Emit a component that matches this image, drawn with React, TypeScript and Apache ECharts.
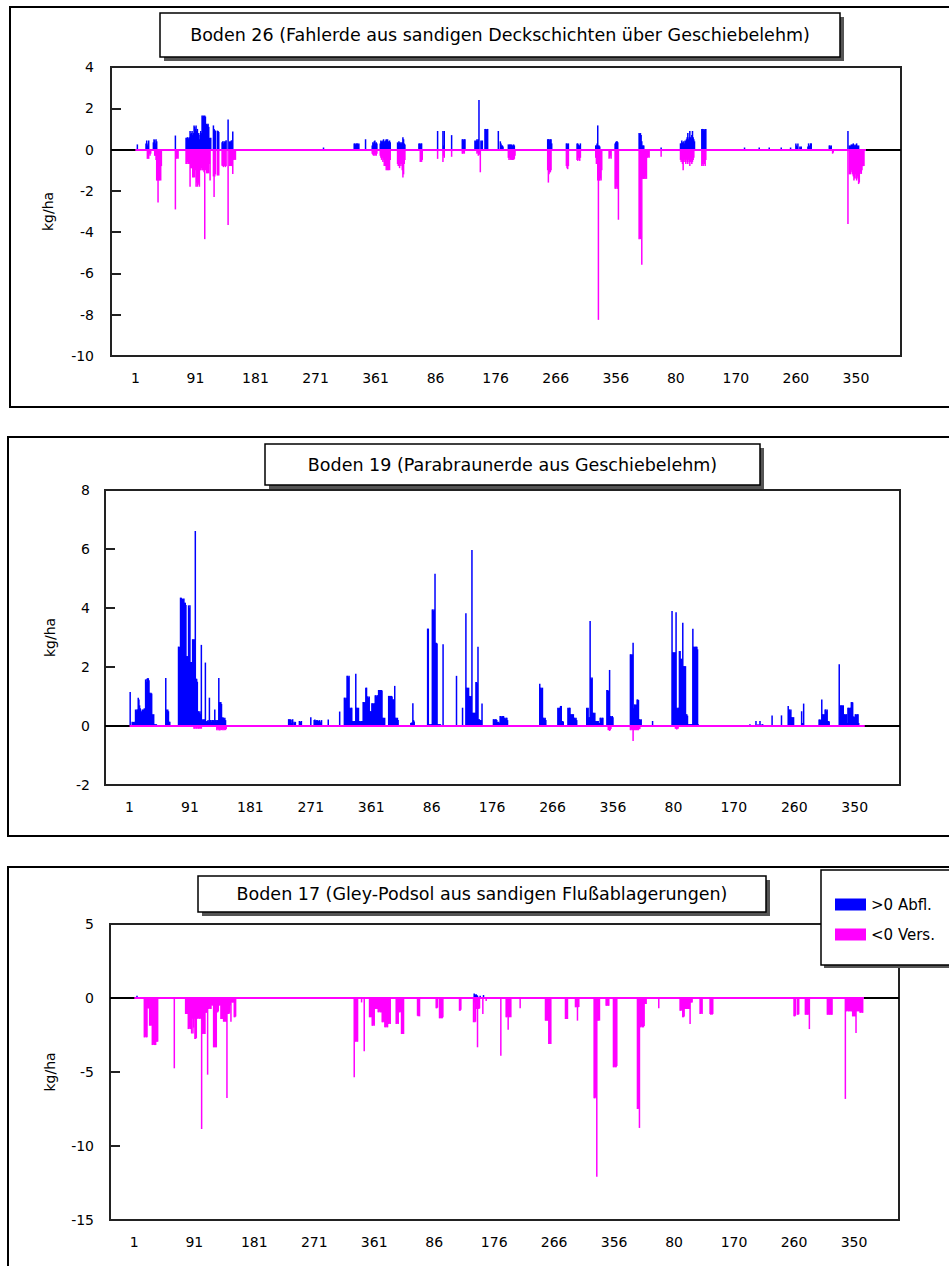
import React, { useEffect, useRef } from 'react';
import * as echarts from 'echarts';

// ---- time axis: three hydrological years, daily values ----
const YEAR_LENGTHS = [365, 366, 365];
const LEAD = 36; // empty categories before day 1
const TRAIL = 52; // empty categories after the last day
const LABEL_STEP = 90;
const SERIES_NAMES = ['>0 Abfl.', '<0 Vers.'];

// Runs of daily values: [first day (1 = first day of record), v, v, ...]
const boden26Abfl: number[][] = [
  [4, 0.25],
  [17, 0.3, 0.44, 0.2, 0.3, 0.44],
  [28, 0.35, 0.5, 0.45, 0.3, 0.5, 0.4],
  [61, 0.68],
  [77, 0.57, 0.55, 0.6, 0.57, 0.5, 0.6, 0.9, 0.75, 0.8, 0.9, 0.7, 0.8, 1.17, 1.1, 1.0, 1.17, 0.9, 1.0, 0.6, 0.8, 0.5, 0.7, 0.9, 0.8, 1.65, 1.6, 1.65, 1.5, 1.65, 1.6, 0.9, 1.25, 1.2, 1.25, 1.1, 0.57, 0.5, 0.57],
  [118, 1.17, 1.0, 0.95, 0.9],
  [124, 0.92, 0.9, 0.85],
  [131, 0.35, 0.4, 0.3, 0.4, 0.35, 0.4, 0.45],
  [140, 1.46],
  [142, 0.4, 0.35, 0.4, 0.45, 0.3],
  [147, 0.87],
  [283, 0.1],
  [329, 0.3, 0.3, 0.25, 0.3, 0.3, 0.3, 0.25, 0.3],
  [346, 0.5],
  [356, 0.2, 0.35, 0.3, 0.4, 0.44, 0.3, 0.35, 0.3],
  [368, 0.3, 0.44, 0.4, 0.35, 0.44, 0.5, 0.4, 0.3, 0.44, 0.5, 0.45, 0.5, 0.4, 0.3, 0.44, 0.35],
  [394, 0.35, 0.3, 0.4, 0.35, 0.3, 0.35, 0.3, 0.35, 0.6, 0.5, 0.3, 0.25],
  [426, 0.3, 0.3, 0.25, 0.3, 0.3],
  [454, 0.9],
  [462, 0.9, 0.2, 0.9],
  [475, 0.7],
  [491, 0.5, 0.5, 0.45, 0.5, 0.5],
  [510, 0.44, 0.4, 0.44, 0.5, 0.44, 0.5, 2.4],
  [519, 0.44, 0.4, 0.44],
  [525, 1.0, 1.0, 0.95, 1.0, 1.0],
  [545, 0.9],
  [548, 0.4, 0.3, 0.2, 0.2, 0.15],
  [560, 0.25, 0.2, 0.25, 0.25, 0.2, 0.25, 0.2, 0.2, 0.25, 0.2],
  [619, 0.5, 0.5, 0.5, 0.45, 0.5, 0.5, 0.3],
  [647, 0.3, 0.3, 0.25, 0.3],
  [663, 0.3, 0.3, 0.25, 0.2, 0.2, 0.3],
  [691, 0.2, 0.2, 0.3, 1.17, 0.2, 0.2, 0.15],
  [720, 0.3, 0.35, 0.4, 0.4, 0.35],
  [756, 0.8, 0.75, 0.8, 0.7, 0.4, 0.2, 0.2, 0.2],
  [789, 0.1],
  [818, 0.3, 0.3, 0.44, 0.35, 0.3, 0.4, 0.3, 0.44, 0.4, 0.5, 0.6, 0.8, 0.5, 0.6, 0.9, 0.6, 0.5, 0.7, 0.9, 0.6, 0.5, 0.4],
  [850, 1.0, 1.0, 0.9, 1.0, 0.95, 1.0, 1.0],
  [914, 0.1], [936, 0.1], [951, 0.1], [969, 0.1], [983, 0.1],
  [991, 0.3, 0.2, 0.15, 0.3],
  [997, 0.15, 0.1, 0.15],
  [1009, 0.15, 0.3, 0.2, 0.15, 0.3, 0.3],
  [1041, 0.2, 0.2, 0.15, 0.2],
  [1069, 0.9],
  [1071, 0.2, 0.15, 0.2, 0.25, 0.2, 0.25, 0.3, 0.25, 0.2, 0.2, 0.25, 0.3, 0.2, 0.15, 0.2],
];

const boden26Vers: number[][] = [
  [19, -0.45, -0.3, -0.45, -0.2, -0.3, -0.2],
  [30, -0.3, -0.3, -0.5, -1.5, -1.5, -2.56, -1.5, -1.5, -1.4, -1.5, -0.8],
  [61, -2.9],
  [63, -0.45, -0.4, -0.45],
  [77, -0.7, -0.7, -0.6, -0.7, -0.7, -0.7, -1.8, -0.9, -0.9, -0.9, -1.35, -1.35, -1.3, -1.35, -1.0, -1.8, -1.6, -1.8, -1.7, -1.6, -1.8, -1.0, -1.0, -0.9, -1.0, -1.0, -1.0, -1.1, -4.34, -1.0, -0.8, -1.15, -1.15, -1.1, -1.15, -0.7, -1.5],
  [118, -1.3, -2.3, -1.3, -1.2],
  [124, -1.26, -1.2, -1.26],
  [131, -0.78, -0.8, -0.85, -0.8, -0.78, -0.85, -0.8],
  [140, -3.66],
  [142, -0.8, -0.75, -0.8, -0.8, -0.7, -1.18, -0.5, -0.5, -0.45, -0.5],
  [356, -0.2, -0.25, -0.3, -0.2, -0.3, -0.25, -0.3, -0.2],
  [368, -0.3, -0.4, -0.5, -0.4, -0.6, -0.5, -0.8, -0.7, -0.8, -1.0, -0.9, -1.0, -1.0, -0.95, -1.0, -0.5],
  [394, -0.7, -0.8, -0.7, -0.9, -0.7, -0.8, -0.7, -1.0, -1.35, -1.2, -0.7, -0.5],
  [428, -0.6, -0.5, -0.6, -0.5],
  [454, -0.45],
  [462, -0.6, -0.3, -0.4],
  [475, -0.35],
  [491, -0.2, -0.2, -0.15, -0.2],
  [513, -0.2, -0.15, -0.3, -0.2, -0.25, -1.1],
  [560, -0.4, -0.5, -0.4, -0.5, -0.45, -0.5, -0.5, -0.4, -0.5, -0.45, -0.3],
  [619, -1.0, -1.6, -1.2, -1.1, -1.1, -1.0],
  [647, -0.8, -0.9, -0.95, -0.8],
  [663, -0.5, -0.55, -0.4, -0.5, -0.55, -0.4],
  [691, -0.4, -0.7, -0.6, -1.5, -8.25, -1.5, -1.5, -1.4, -1.5, -1.0],
  [711, -0.45, -0.4, -0.3, -0.45],
  [720, -1.9, -1.9, -1.8, -1.9, -1.9, -3.4],
  [756, -4.34, -4.3, -4.34, -1.42, -5.58, -1.42, -1.4, -1.42, -1.4, -1.42, -1.3, -1.42, -0.4, -0.4, -0.35, -0.4],
  [789, -0.35],
  [818, -0.5, -0.6, -0.5, -0.7, -1.0, -0.6, -0.5, -0.6, -0.7, -0.5, -0.6, -0.7, -0.5, -0.6, -0.8, -0.6, -0.5, -0.7, -0.6, -0.5, -0.4],
  [850, -0.8, -0.7, -0.8, -0.6, -0.7, -0.8, -0.5],
  [1046, -0.2, -0.15],
  [1069, -3.6],
  [1071, -1.2, -1.0, -1.2, -1.0, -1.1, -1.2, -1.3, -1.5, -1.4, -1.2, -1.4, -1.5, -1.3, -1.4, -1.67, -1.6, -1.18, -1.1, -1.18, -1.0, -0.8, -0.8, -0.8],
];

const boden19Abfl: number[][] = [
  [2, 1.15],
  [5, 0.14, 0.1, 0.14, 0.12, 0.14],
  [10, 0.56, 0.5, 0.56, 0.56, 0.96, 0.9, 0.7, 0.6, 0.45, 0.5, 0.56, 0.5, 0.56, 0.6, 0.56, 1.58, 1.5, 1.6, 1.62, 1.62, 1.55, 1.13, 1.1, 1.13, 1.1, 0.4, 0.35, 0.4, 0.06, 0.06, 0.05, 0.06],
  [55, 1.63, 0.56, 0.5, 0.56, 0.5, 0.14, 0.14],
  [74, 2.69, 2.69, 2.6, 4.35, 4.35, 4.3, 4.32, 4.3, 4.32, 4.18, 4.18, 4.1, 2.37, 2.37, 2.3, 4.09, 4.0, 4.09, 2.17, 2.17, 2.1, 2.94, 2.94, 2.9, 2.94, 6.61, 1.6, 1.6, 1.5, 0.5, 0.5, 0.45, 0.5, 0.4, 2.75, 0.23, 0.2, 0.23, 0.2, 0.23, 2.15, 0.17, 0.15, 0.17, 0.2, 0.15, 0.96, 0.2, 0.2, 0.15, 0.2, 0.2, 0.2, 0.15, 0.56, 0.2, 0.2, 0.15, 0.2, 0.2, 1.63, 0.81, 0.8, 0.81, 0.75, 0.28, 0.3, 0.28, 0.25, 0.28, 0.2],
  [238, 0.23, 0.23, 0.2, 0.23, 0.1, 0.2, 0.23],
  [246, 0.14, 0.1, 0.14],
  [254, 0.17, 0.1, 0.15, 0.17],
  [271, 0.3],
  [276, 0.2, 0.22, 0.18, 0.2, 0.15, 0.2, 0.18, 0.15, 0.2, 0.1, 0.15, 0.2],
  [297, 0.22],
  [314, 0.49],
  [321, 0.96, 0.96, 0.9, 0.96, 1.7, 1.7, 1.65, 1.7, 0.62, 0.6, 0.62, 0.62, 0.17, 0.17, 0.15, 0.17, 0.17, 1.77, 0.62, 0.62, 0.6, 0.62, 0.17, 0.17, 0.15, 0.17, 0.17, 0.17, 0.81, 0.81, 0.8, 0.81, 1.3, 1.3, 1.0, 1.0, 0.95, 1.0, 0.5, 0.5, 0.5, 0.77, 0.77, 0.75, 0.77, 0.77, 1.04, 1.04, 1.0, 1.04, 1.04, 1.22, 1.22, 1.2, 1.22, 1.22, 1.2, 0.28, 0.28, 0.25, 0.28],
  [387, 1.02, 1.02, 1.0, 1.02, 1.02, 1.0, 0.9, 0.9, 0.9, 1.36, 0.28, 0.28, 0.25, 0.28, 0.2],
  [420, 0.1, 0.12, 0.1, 0.77, 0.2, 0.15],
  [445, 3.3, 3.3, 0.06, 0.06, 0.05, 0.06, 0.06, 3.95, 3.95, 3.9, 3.95, 5.16, 2.82, 2.82, 2.8, 0.06, 0.06, 0.05, 0.06, 0.06],
  [468, 2.77],
  [488, 1.7],
  [497, 0.62],
  [502, 3.82, 1.3, 1.3, 1.25, 1.3, 1.02, 1.02, 1.0, 1.02, 5.97, 0.45, 0.45, 0.4, 0.45, 0.45, 1.49, 1.49, 1.45, 2.69, 0.23, 0.23, 0.2, 0.2, 0.2, 0.76],
  [543, 0.23, 0.23, 0.2, 0.23, 0.23, 0.2, 0.14, 0.12, 0.14, 0.1, 0.34, 0.34, 0.3, 0.34, 0.32, 0.34, 0.28, 0.28, 0.25, 0.28, 0.28, 0.2],
  [612, 1.43, 1.3, 1.3, 1.25, 1.3, 0.28, 0.28, 0.25, 0.28, 0.2],
  [639, 0.62, 0.6, 0.62, 0.62, 0.68, 0.68, 0.17, 0.17, 0.15],
  [654, 0.62, 0.6, 0.62, 0.62, 0.4, 0.4, 0.38, 0.4, 0.4, 0.28, 0.28, 0.25, 0.28, 0.2],
  [682, 0.62, 0.6, 0.62, 0.3, 0.3, 3.56, 1.64, 1.6, 1.64, 0.45, 0.45, 0.4, 0.45, 0.17, 0.17, 0.15, 0.17, 0.17, 0.1, 0.1, 0.28, 0.28, 0.25, 0.28, 0.28],
  [712, 1.22, 1.22, 1.2, 0.5, 1.9, 0.34, 0.34, 0.3, 0.34, 0.3],
  [747, 2.43, 2.43, 2.4, 2.43, 2.82, 0.6, 0.73, 0.73, 0.7, 0.73, 0.9, 0.9, 0.88, 0.23, 0.23, 0.2, 0.23],
  [780, 0.17],
  [809, 3.9, 2.5, 2.5, 2.45, 2.5, 2.5, 3.86, 0.62, 0.6, 0.62, 0.62, 2.54, 2.54, 2.28, 2.28, 2.25, 3.5, 2.03, 2.03, 2.0, 2.03, 0.4, 0.4, 0.35, 0.06, 0.06, 0.06, 0.06, 0.06, 0.06, 0.06, 3.3, 2.69, 2.69, 2.65, 2.69, 2.69, 2.69, 2.6, 0.06],
  [925, 0.06], [934, 0.17], [937, 0.06], [940, 0.17], [943, 0.06, 0.06],
  [958, 0.36], [972, 0.36],
  [982, 0.68, 0.56, 0.56, 0.5, 0.56, 0.3, 0.3, 0.28, 0.3],
  [1002, 0.5, 0.1, 0.1, 0.76],
  [1028, 0.22, 0.22, 0.2, 0.22, 0.9, 0.4, 0.4, 0.38, 0.4, 0.56, 0.56, 0.5, 0.56, 0.17, 0.17, 0.15],
  [1058, 2.09, 0.3, 0.7, 0.7, 0.68, 0.7, 0.7, 0.4, 0.4, 0.38, 0.4, 0.4, 0.1, 0.62, 0.62, 0.6, 0.62, 0.62, 0.81, 0.81, 0.8, 0.32, 0.32, 0.3, 0.4, 0.4, 0.38, 0.4, 0.4, 0.1],
];

const boden19Vers: number[][] = [
  [97, -0.09, -0.09, -0.05, -0.09, -0.09, -0.05, -0.09, -0.09, -0.09, -0.05, -0.09, -0.09],
  [131, -0.14, -0.1, -0.14, -0.1, -0.15, -0.14, -0.1, -0.14, -0.1, -0.14, -0.12, -0.14, -0.1, -0.14, -0.1],
  [714, -0.14, -0.1, -0.17, -0.14, -0.1],
  [747, -0.14, -0.14, -0.1, -0.14, -0.51, -0.14, -0.14, -0.1, -0.14, -0.14, -0.1, -0.14, -0.14, -0.1, -0.1],
  [814, -0.09, -0.09, -0.12, -0.09, -0.09],
];

const boden17Abfl: number[][] = [
  [5, 0.16],
  [511, 0.3, 0.25, 0.2, 0.25, 0.2, 0.15],
  [520, 0.15],
  [525, 0.2],
];

const boden17Vers: number[][] = [
  [16, -2.66, -2.66, -2.6, -2.66, -2.66, -0.7, -0.7, -0.7, -1.87, -1.87, -1.8, -1.87, -3.18, -3.18, -3.1, -3.18, -3.18, -3.18, -2.95, -2.95, -2.95],
  [61, -4.75],
  [78, -1.08, -1.08, -1.0, -1.08, -2.1, -2.1, -2.0, -2.1, -1.4, -2.4, -1.4, -2.4, -2.0, -1.4, -2.77, -2.77, -2.7, -1.4, -1.4, -1.35, -1.4, -1.4, -1.4, -1.35, -8.85, -2.43, -2.43, -2.4, -2.43, -2.43, -1.0, -1.0, -0.8, -5.18, -0.74, -0.74, -0.7, -0.74, -0.74, -0.5, -0.5, -0.5, -3.33, -3.33, -3.3, -3.33, -3.33, -0.97, -0.97, -0.9, -0.5, -0.5, -0.5, -1.42, -1.42, -1.4, -1.42, -1.6, -1.6, -1.55, -1.6, -1.6, -6.76, -1.08, -1.08, -1.08, -1.0, -0.5, -1.6, -0.3, -0.3, -0.3, -0.3, -1.3, -1.3, -1.25],
  [331, -5.36, -2.95, -2.95, -2.9, -2.95, -2.95],
  [342, -0.3],
  [346, -3.6],
  [354, -1.3, -1.3, -1.25, -1.3, -1.87, -1.87, -1.8, -1.87, -0.74, -0.74, -0.7, -0.74, -0.74, -0.97, -0.97, -0.9, -0.97, -0.97, -0.97, -1.64, -1.64, -1.6, -1.64, -1.98, -1.98, -1.9, -1.98, -1.98, -1.76, -1.76, -1.7, -1.76],
  [394, -1.76, -1.76, -1.7, -1.76, -0.97, -0.97, -0.9, -0.97, -2.43, -2.43, -2.4, -2.43],
  [426, -1.2, -1.24, -1.2, -1.24],
  [454, -0.7, -0.7, -0.65],
  [459, -1.37, -1.37, -1.3, -1.37, -1.37, -1.3],
  [489, -0.86, -0.86, -0.8],
  [510, -1.64, -0.3, -1.64, -1.6, -0.74, -0.74, -3.33, -0.74, -0.74, -0.7],
  [524, -1.08],
  [529, -0.2],
  [551, -3.9],
  [559, -1.3, -1.3, -1.25, -2.14, -1.3, -1.3, -1.25, -1.3],
  [580, -0.7],
  [618, -1.53, -1.53, -1.5, -1.53, -1.53, -3.1, -3.1, -3.05, -3.1],
  [648, -1.42, -1.42, -1.4, -1.42],
  [663, -0.63, -0.6, -0.63, -1.53, -0.63, -0.6],
  [691, -6.78, -6.78, -6.7, -6.78, -12.07, -1.53, -1.53, -1.5, -1.53],
  [709, -0.52, -0.52, -0.5, -0.52, -0.52],
  [720, -4.68, -4.68, -4.6, -4.68, -4.68, -4.6],
  [756, -7.5, -7.5, -7.45, -8.78, -1.98, -1.98, -1.9, -1.98, -1.98, -1.98, -1.9, -0.4, -0.4, -0.4],
  [788, -0.7],
  [820, -0.86, -0.86, -0.8, -0.86, -1.3, -1.3, -1.25, -0.74, -0.74, -0.7, -0.74, -0.74, -0.7, -0.74, -0.74, -1.76, -0.3, -0.3, -0.3],
  [850, -1.08, -1.08, -1.0, -1.08],
  [865, -1.08, -1.13, -1.08, -1.13, -1.08],
  [991, -1.24, -1.24, -1.2],
  [996, -1.13, -1.13, -1.1],
  [1008, -1.13, -1.13, -1.1, -1.13, -1.13, -1.1, -2.1],
  [1041, -1.13, -1.13, -1.1, -1.13, -1.13, -1.1, -1.13, -1.13],
  [1068, -6.82, -0.9, -0.9, -0.85, -0.9, -0.9, -0.9, -0.85, -0.9, -0.9, -0.9, -1.24, -1.24, -1.2, -1.24, -1.24, -2.36, -0.9, -0.9, -0.85, -0.9, -0.9, -1.0, -1.0, -0.95, -1.0, -1.0],
];

const TITLES = [
  'Boden 26 (Fahlerde aus sandigen Deckschichten über Geschiebelehm)',
  'Boden 19 (Parabraunerde aus Geschiebelehm)',
  'Boden 17 (Gley-Podsol aus sandigen Flußablagerungen)',
];
const Y_RANGES = [
  [-10, 4, 2],
  [-2, 8, 2],
  [-15, 5, 5],
];

// ---- layout (pixels) ----
const LAYOUT = [
  { grid: { left: 111, top: 67, width: 790, height: 289 }, frame: [10, 7, 960, 400], box: [160, 13, 680, 44], nameGap: 56, labelMargin: 17 },
  { grid: { left: 105, top: 490, width: 795, height: 295 }, frame: [8, 437, 960, 399], box: [265, 444, 495, 41], nameGap: 48, labelMargin: 15 },
  { grid: { left: 110, top: 924, width: 789, height: 296 }, frame: [8, 867, 960, 430], box: [198, 876, 568, 36], nameGap: 53, labelMargin: 16 },
];

const FONT = '"DejaVu Sans", "Liberation Sans", sans-serif';
const BLUE = '#0000ff';
const PINK = '#ff00ff';

const TOTAL_DAYS = YEAR_LENGTHS.reduce((a, b) => a + b, 0);
const N_CAT = LEAD + TOTAL_DAYS + TRAIL;

function buildCategories(): string[] {
  const cats: string[] = [];
  for (let i = 0; i < LEAD; i++) cats.push('');
  YEAR_LENGTHS.forEach((len) => {
    for (let d = 1; d <= len; d++) cats.push(String(d));
  });
  for (let i = 0; i < TRAIL; i++) cats.push('');
  return cats;
}

function expand(runs: number[][]): (number | null)[] {
  const arr: (number | null)[] = new Array(N_CAT).fill(null);
  runs.forEach((run) => {
    const start = run[0];
    for (let k = 1; k < run.length; k++) {
      arr[LEAD + start - 1 + (k - 1)] = run[k];
    }
  });
  return arr;
}

export default function App() {
  const ref = useRef<HTMLDivElement>(null);

  useEffect(() => {
    if (!ref.current) return;
    const chart = echarts.init(ref.current, undefined, { renderer: 'svg' });
    const cats = buildCategories();
    const pos = [boden26Abfl, boden19Abfl, boden17Abfl];
    const neg = [boden26Vers, boden19Vers, boden17Vers];

    const grids: any[] = [];
    const xAxes: any[] = [];
    const yAxes: any[] = [];
    const series: any[] = [];
    const graphics: any[] = [];

    LAYOUT.forEach((L, k) => {
      grids.push({ ...L.grid, show: true, borderColor: '#222', borderWidth: 2, backgroundColor: 'transparent', containLabel: false });
      xAxes.push({
        type: 'category',
        gridIndex: k,
        data: cats,
        position: 'bottom',
        boundaryGap: true,
        axisLine: { show: false, onZero: false },
        axisTick: { show: false },
        splitLine: { show: false },
        axisLabel: {
          interval: (idx: number) => idx >= LEAD && idx < LEAD + TOTAL_DAYS && (idx - LEAD) % LABEL_STEP === 0,
          margin: 15,
          color: '#000',
          fontSize: 14,
          fontFamily: FONT,
        },
      });
      const [mn, mx, st] = Y_RANGES[k];
      yAxes.push({
        type: 'value',
        gridIndex: k,
        min: mn,
        max: mx,
        interval: st,
        name: 'kg/ha',
        nameLocation: 'middle',
        nameGap: L.nameGap,
        nameTextStyle: { color: '#000', fontSize: 14, fontFamily: FONT },
        axisLine: { show: false },
        axisTick: { show: true, inside: true, length: 10, lineStyle: { color: '#222', width: 2 } },
        splitLine: { show: false },
        axisLabel: { color: '#000', fontSize: 14, fontFamily: FONT, margin: L.labelMargin },
      });
      series.push({
        type: 'bar',
        name: SERIES_NAMES[0],
        xAxisIndex: k,
        yAxisIndex: k,
        stack: 'p' + k,
        barWidth: 1.5,
        silent: true,
        itemStyle: { color: BLUE },
        data: expand(pos[k]),
        markLine: {
          silent: true,
          symbol: ['none', 'none'],
          label: { show: false },
          emphasis: { disabled: true },
          lineStyle: { color: '#000', width: 2, type: 'solid' },
          data: [{ yAxis: 0 }],
        },
      });
      series.push({
        type: 'bar',
        name: SERIES_NAMES[1],
        xAxisIndex: k,
        yAxisIndex: k,
        stack: 'p' + k,
        barWidth: 1.5,
        silent: true,
        itemStyle: { color: PINK },
        data: expand(neg[k]),
        markLine: {
          silent: true,
          symbol: ['none', 'none'],
          label: { show: false },
          emphasis: { disabled: true },
          lineStyle: { color: PINK, width: 2, type: 'solid' },
          data: [[{ coord: [LEAD, 0] }, { coord: [LEAD + TOTAL_DAYS - 1, 0] }]],
        },
      });

      const [fx, fy, fw, fh] = L.frame;
      graphics.push({ type: 'rect', z: 0, silent: true, shape: { x: fx, y: fy, width: fw, height: fh }, style: { fill: 'none', stroke: '#000', lineWidth: 2 } });
      const [bx, by, bw, bh] = L.box;
      graphics.push({ type: 'rect', z: 1, silent: true, shape: { x: bx + 4, y: by + 4, width: bw, height: bh }, style: { fill: '#555' } });
      graphics.push({ type: 'rect', z: 2, silent: true, shape: { x: bx, y: by, width: bw, height: bh }, style: { fill: '#fff', stroke: '#000', lineWidth: 1.5 } });
      graphics.push({
        type: 'text', z: 3, silent: true,
        style: {
          text: TITLES[k], x: bx + bw / 2, y: by + bh / 2,
          align: 'center', verticalAlign: 'middle', textAlign: 'center', textVerticalAlign: 'middle',
          fontSize: 17.5, fontFamily: FONT, fill: '#000',
        },
      });
    });

    // legend box
    graphics.push({ type: 'rect', z: 1, silent: true, shape: { x: 824, y: 873, width: 140, height: 95 }, style: { fill: '#555' } });
    graphics.push({ type: 'rect', z: 2, silent: true, shape: { x: 821, y: 870, width: 140, height: 95 }, style: { fill: '#fff', stroke: '#000', lineWidth: 1.5 } });

    chart.setOption({
      animation: false,
      backgroundColor: '#fff',
      grid: grids,
      xAxis: xAxes,
      yAxis: yAxes,
      series,
      graphic: { elements: graphics },
      legend: {
        show: true,
        orient: 'vertical',
        left: 830,
        top: 892,
        itemWidth: 31,
        itemHeight: 12,
        itemGap: 15,
        selectedMode: false,
        z: 10,
        textStyle: { color: '#000', fontSize: 15, fontFamily: FONT },
        data: [
          { name: SERIES_NAMES[0], icon: 'rect' },
          { name: SERIES_NAMES[1], icon: 'rect' },
        ],
      },
    });

    return () => chart.dispose();
  }, []);

  return <div ref={ref} style={{ position: 'absolute', left: 0, top: 0, width: 949, height: 1266 }} />;
}
